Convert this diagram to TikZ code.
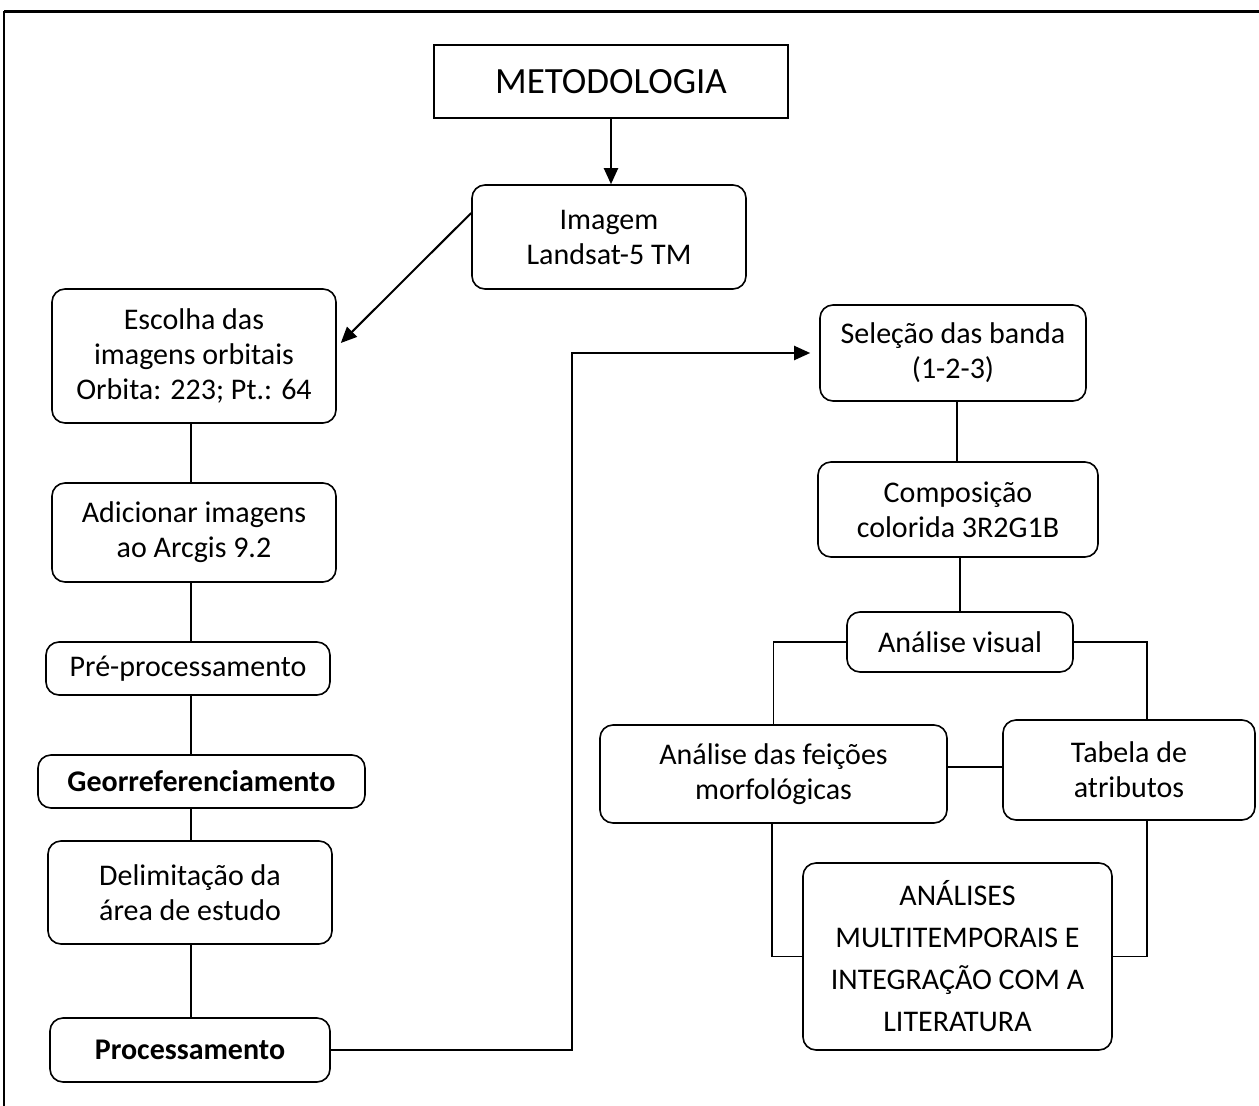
\documentclass[tikz,border=0pt]{standalone}
\usepackage{fontspec}
\setmainfont{Carlito}
\usetikzlibrary{arrows.meta,calc}
\begin{document}
\begin{tikzpicture}[x=1pt,y=-1pt,
  line width=1.6pt,
  box/.style={draw, line width=1.6pt, rounded corners=13pt, align=center, inner sep=0pt,
    font=\fontsize{30}{35}\selectfont},
  sqbox/.style={draw, line width=1.6pt, align=center, inner sep=0pt,
    font=\fontsize{37}{40}\selectfont},
  conn/.style={line width=1.6pt},
  arr/.style={line width=2pt, -{Triangle[length=16pt,width=14pt]}},
  frame/.style={line width=3pt}
]
\useasboundingbox (0,0) rectangle (1259,1106);
% outer frame
\coordinate (ftl) at (4,11);
\coordinate (ftr) at (1265,11);
\coordinate (fbl) at (4,1112);
\draw[frame] (ftl) -- (ftr);
\draw[line width=1.5pt] (ftl) -- (fbl);

% nodes
\node[sqbox, minimum width=354pt, minimum height=73pt] (meto) at (611,81.5) {METODOLOGIA};
\node[box, minimum width=274pt, minimum height=104pt] (img) at (609,237) {Imagem\\Landsat-5 TM};
\node[box, minimum width=284pt, minimum height=134pt] (esc) at (194,356) {Escolha das\\imagens orbitais\\Orbita: 223; Pt.: 64};
\node[box, minimum width=284pt, minimum height=99pt] (adi) at (194,532.5) {Adicionar imagens\\ao Arcgis 9.2};
\node[box, minimum width=284pt, minimum height=53pt] (pre) at (188,668.5) {Pré-processamento};
\node[box, minimum width=327pt, minimum height=53pt] (geo) at (201.5,781.5) {\bfseries Georreferenciamento};
\node[box, minimum width=284pt, minimum height=103pt] (del) at (190,892.5) {Delimitação da\\área de estudo};
\node[box, minimum width=280pt, minimum height=64pt] (pro) at (190,1050) {\bfseries Processamento};

\node[box, minimum width=266pt, minimum height=96pt] (sel) at (953,353) {Seleção das banda\\(1-2-3)};
\node[box, minimum width=280pt, minimum height=95pt] (comp) at (958,509.5) {Composição\\colorida 3R2G1B};
\node[box, minimum width=226pt, minimum height=60pt] (vis) at (960,642) {Análise visual};
\node[box, minimum width=347pt, minimum height=98pt] (fei) at (773.5,774) {Análise das feições\\morfológicas};
\node[box, minimum width=252pt, minimum height=100pt] (tab) at (1129,770) {Tabela de\\atributos};
\node[box, minimum width=309pt, minimum height=187pt, font=\fontsize{30}{42}\selectfont] (ana) at (957.5,956.5)
  {ANÁLISES\\MULTITEMPORAIS E\\INTEGRAÇÃO COM A\\LITERATURA};

% connectors
\draw[arr] (meto.south) -- (meto.south |- img.north);
\draw[arr] ([yshift=24pt]img.west) -- ([xshift=4pt,yshift=13pt]esc.east);

\coordinate (lc) at (191,0);
\draw[conn] (lc |- esc.south) -- (lc |- adi.north);
\draw[conn] (lc |- adi.south) -- (lc |- pre.north);
\draw[conn] (lc |- pre.south) -- (lc |- geo.north);
\draw[conn] (lc |- geo.south) -- (lc |- del.north);
\draw[conn] (lc |- del.south) -- (lc |- pro.north);

\coordinate (turn) at (572,353);
\draw[arr] (pro.east) -| (turn) -- ([xshift=-9pt]sel.west);

\draw[conn] (957,0 |- sel.south) -- (957,0 |- comp.north);
\draw[conn] (comp.south -| vis.north) -- (vis.north);
\draw[conn] (vis.west) -| (fei.north);
\coordinate (rc) at (1147,0);
\draw[conn] (vis.east) -| (rc |- tab.north);
\draw[conn] (fei.east |- 0,767) -- (tab.west |- 0,767);
\draw[conn] (fei.south -| 772,0) |- (ana.west);
\draw[conn] (rc |- tab.south) |- (ana.east);
\end{tikzpicture}
\end{document}
